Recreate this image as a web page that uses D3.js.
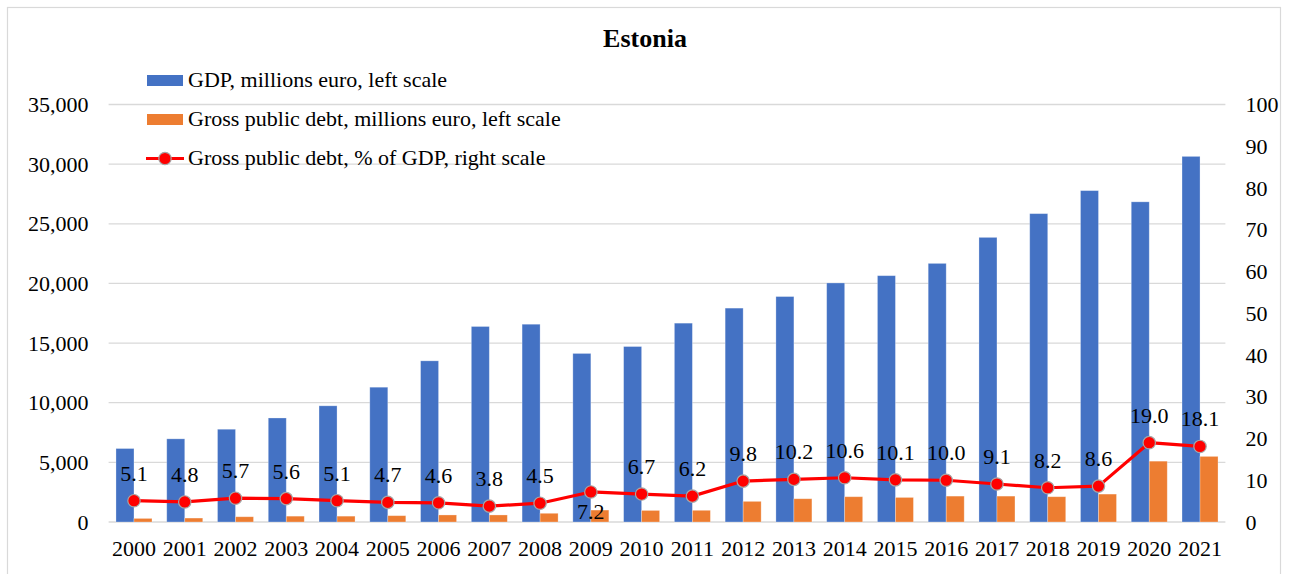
<!DOCTYPE html>
<html>
<head>
<meta charset="utf-8">
<script src="https://cdn.jsdelivr.net/npm/d3@7"></script>
<style>
  body { margin: 0; background: #fff; }
  svg { display: block; }
  svg text { font-family: "Liberation Serif", "Times New Roman", serif !important; fill: #000; }
</style>
</head>
<body>
<svg id="chart" width="1289" height="574"></svg>
<script>
const years = ["2000","2001","2002","2003","2004","2005","2006","2007","2008","2009","2010","2011","2012","2013","2014","2015","2016","2017","2018","2019","2020","2021"];
const gdp = [6160, 6971, 7776, 8720, 9740, 11300, 13510, 16390, 16580, 14130, 14710, 16670, 17930, 18900, 20040, 20650, 21680, 23860, 25850, 27780, 26840, 30650];
const debt = [300, 330, 440, 490, 490, 530, 590, 590, 730, 1000, 970, 980, 1730, 1950, 2120, 2060, 2170, 2170, 2120, 2340, 5100, 5500];
const debtPct = [5.1, 4.8, 5.7, 5.6, 5.1, 4.7, 4.6, 3.8, 4.5, 7.2, 6.7, 6.2, 9.8, 10.2, 10.6, 10.1, 10.0, 9.1, 8.2, 8.6, 19.0, 18.1];
const leftTicks = [0, 5000, 10000, 15000, 20000, 25000, 30000, 35000];
const rightTicks = [0, 10, 20, 30, 40, 50, 60, 70, 80, 90, 100];
const labelsBelow = ["2009"];
const seriesNames = ["GDP, millions euro, left scale", "Gross public debt, millions euro, left scale", "Gross public debt, % of GDP, right scale"];
const title = "Estonia";

const FONT = "Liberation Serif, Times New Roman, serif";
const svg = d3.select("#chart").attr("font-family", FONT);
const plot = { left: 108.6, right: 1225.4, top: 104.5, bottom: 522 };
const colors = { gdp: "#4472C4", debt: "#ED7D31", pct: "#FF0000", grid: "#D9D9D9" };

// chart frame
svg.append("rect").attr("x", 7.5).attr("y", 7.5).attr("width", 1273).attr("height", 572)
  .attr("fill", "#fff").attr("stroke", colors.grid).attr("stroke-width", 1.2);

const x = d3.scaleBand().domain(years).range([plot.left, plot.right]).paddingInner(0).paddingOuter(0);
const yL = d3.scaleLinear().domain([0, 35000]).range([plot.bottom, plot.top]);
const yR = d3.scaleLinear().domain([0, 100]).range([plot.bottom, plot.top]);
const barW = 18;

// gridlines
svg.append("g").selectAll("line").data(leftTicks).join("line")
  .attr("x1", plot.left).attr("x2", plot.right)
  .attr("y1", d => yL(d)).attr("y2", d => yL(d))
  .attr("stroke", colors.grid).attr("stroke-width", 1.3);

// axes
const fontSize = 22;
const gL = svg.append("g").attr("transform", `translate(${plot.left},0)`)
  .call(d3.axisLeft(yL).tickValues(leftTicks).tickSize(0).tickPadding(20).tickFormat(d3.format(",")));
const gR = svg.append("g").attr("transform", `translate(${plot.right},0)`)
  .call(d3.axisRight(yR).tickValues(rightTicks).tickSize(0).tickPadding(20).tickFormat(d3.format("d")));
const gB = svg.append("g").attr("transform", `translate(0,${plot.bottom})`)
  .call(d3.axisBottom(x).tickSize(0).tickPadding(18));
[gL, gR, gB].forEach(g => {
  g.attr("font-family", FONT).attr("font-size", fontSize);
  g.select(".domain").remove();
  g.selectAll("text").attr("font-size", fontSize).attr("font-family", FONT).attr("fill", "#000");
});

// bars
const cx = d => x(d) + x.bandwidth() / 2;
svg.append("g").selectAll("rect").data(years).join("rect")
  .attr("x", (d) => cx(d) - barW)
  .attr("width", barW)
  .attr("y", (d, i) => yL(gdp[i]))
  .attr("height", (d, i) => yL(0) - yL(gdp[i]))
  .attr("fill", colors.gdp)
  .attr("stroke", "#ffffff").attr("stroke-opacity", 0.35).attr("stroke-width", 0.8);
svg.append("g").selectAll("rect").data(years).join("rect")
  .attr("x", (d) => cx(d))
  .attr("width", barW)
  .attr("y", (d, i) => yL(debt[i]))
  .attr("height", (d, i) => yL(0) - yL(debt[i]))
  .attr("fill", colors.debt)
  .attr("stroke", "#ffffff").attr("stroke-opacity", 0.35).attr("stroke-width", 0.8);

// line
const line = d3.line().x((d, i) => cx(years[i])).y(d => yR(d));
svg.append("path").datum(debtPct).attr("d", line)
  .attr("fill", "none").attr("stroke", colors.pct).attr("stroke-width", 3.2).attr("stroke-linejoin", "round");
svg.append("g").selectAll("circle").data(debtPct).join("circle")
  .attr("cx", (d, i) => cx(years[i])).attr("cy", d => yR(d)).attr("r", 6.2)
  .attr("fill", colors.pct).attr("stroke", "#A6A6A6").attr("stroke-width", 1.2);

// data labels
svg.append("g").selectAll("text").data(debtPct).join("text")
  .attr("x", (d, i) => cx(years[i]))
  .attr("y", (d, i) => labelsBelow.includes(years[i]) ? yR(d) + 27 : yR(d) - 20)
  .attr("text-anchor", "middle").attr("font-size", fontSize).attr("font-family", FONT)
  .text(d => d3.format(".1f")(d));

// title
svg.append("text").attr("x", 645).attr("y", 47).attr("text-anchor", "middle")
  .attr("font-size", 26).attr("font-weight", "bold").attr("font-family", FONT).text(title);

// legend
const legY = [80.5, 119.5, 158.5];
const leg = svg.append("g");
leg.append("rect").attr("x", 147).attr("y", legY[0] - 5.5).attr("width", 36).attr("height", 11).attr("fill", colors.gdp);
leg.append("rect").attr("x", 147).attr("y", legY[1] - 5.5).attr("width", 36).attr("height", 11).attr("fill", colors.debt);
leg.append("line").attr("x1", 146).attr("x2", 184).attr("y1", legY[2]).attr("y2", legY[2])
  .attr("stroke", colors.pct).attr("stroke-width", 3.2);
leg.append("circle").attr("cx", 165).attr("cy", legY[2]).attr("r", 6.2)
  .attr("fill", colors.pct).attr("stroke", "#A6A6A6").attr("stroke-width", 1.2);
leg.selectAll("text").data(seriesNames).join("text")
  .attr("x", 188).attr("y", (d, i) => legY[i] + 6.5)
  .attr("font-size", fontSize).attr("font-family", FONT).text(d => d);
</script>
</body>
</html>
